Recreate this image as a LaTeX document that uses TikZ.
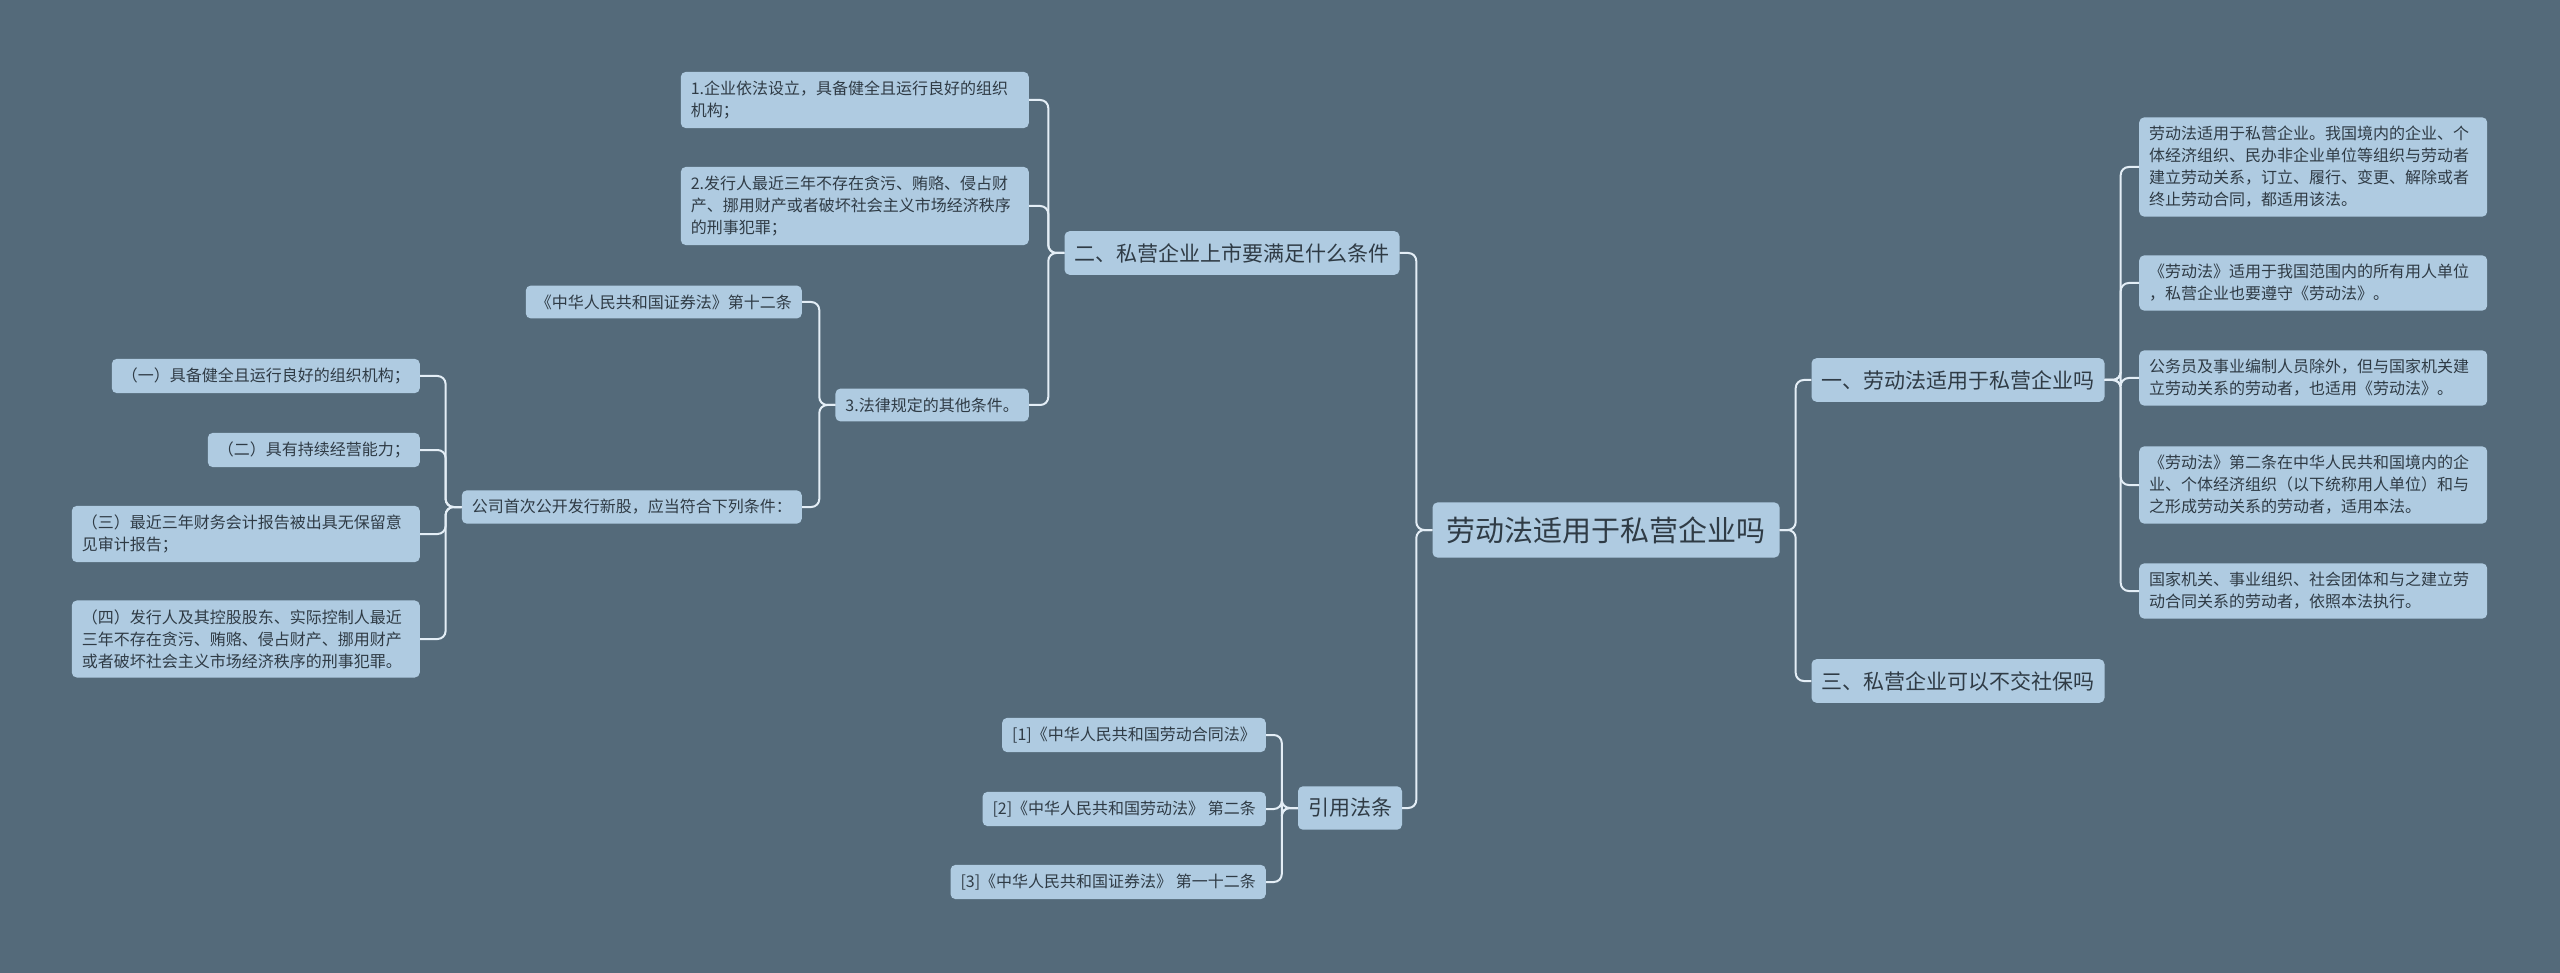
\documentclass[tikz,border=0pt]{standalone}
\usepackage{fontspec}
\setmainfont{Noto Sans CJK SC}
\usetikzlibrary{positioning}
\definecolor{bgc}{HTML}{546A7A}
\definecolor{boxc}{HTML}{AFCBE1}
\definecolor{txtc}{HTML}{2F3B45}
\definecolor{linec}{HTML}{E4EEF6}
\tikzset{
  box/.style={fill=boxc, text=txtc, rounded corners=5pt, inner xsep=10pt, inner ysep=9pt, align=left, font=\fontsize{16}{22}\selectfont},
  wide/.style={box, text width=328pt},
  mid/.style={box, font=\fontsize{21}{26}\selectfont, inner ysep=12pt},
  root/.style={box, font=\fontsize{29}{34}\selectfont, inner xsep=14pt, inner ysep=14pt},
  link/.style={draw=linec, line width=2pt, rounded corners=8pt},
}
\begin{document}
\begin{tikzpicture}[x=1pt, y=-1pt]
	\fill[bgc] (0,0) rectangle (2560,973);
	\useasboundingbox (0,0) rectangle (2560,973);

	\node [root] (main) at (1606,530) {劳动法适用于私营企业吗};

	\node [mid] (one) at (1958,380) {一、劳动法适用于私营企业吗};
	\node [mid] (three) at (1958,681) {三、私营企业可以不交社保吗};
	\node [mid] (two) at (1232,253) {二、私营企业上市要满足什么条件};
	\node [mid] (ref) at (1350,808) {引用法条};

	\node [wide, anchor=west] (a1) at (2139,167) {劳动法适用于私营企业。我国境内的企业、个\\体经济组织、民办非企业单位等组织与劳动者\\建立劳动关系，订立、履行、变更、解除或者\\终止劳动合同，都适用该法。};
	\node [wide, anchor=west] (a2) at (2139,283) {《劳动法》适用于我国范围内的所有用人单位\\，私营企业也要遵守《劳动法》。};
	\node [wide, anchor=west] (a3) at (2139,378) {公务员及事业编制人员除外，但与国家机关建\\立劳动关系的劳动者，也适用《劳动法》。};
	\node [wide, anchor=west] (a4) at (2139,485) {《劳动法》第二条在中华人民共和国境内的企\\业、个体经济组织（以下统称用人单位）和与\\之形成劳动关系的劳动者，适用本法。};
	\node [wide, anchor=west] (a5) at (2139,591) {国家机关、事业组织、社会团体和与之建立劳\\动合同关系的劳动者，依照本法执行。};

	\node [wide, anchor=east] (b1) at (1029,100) {1.企业依法设立，具备健全且运行良好的组织\\机构；};
	\node [wide, anchor=east] (b2) at (1029,206) {2.发行人最近三年不存在贪污、贿赂、侵占财\\产、挪用财产或者破坏社会主义市场经济秩序\\的刑事犯罪；};
	\node [box, anchor=east] (b3) at (1029,405) {3.法律规定的其他条件。};

	\node [box, anchor=east] (c1) at (802,302) {《中华人民共和国证券法》第十二条};
	\node [box, anchor=east] (c2) at (802,507) {公司首次公开发行新股，应当符合下列条件：};

	\node [box, anchor=east] (d1) at (420,376) {（一）具备健全且运行良好的组织机构；};
	\node [box, anchor=east] (d2) at (420,450) {（二）具有持续经营能力；};
	\node [wide, anchor=east] (d3) at (420,534) {（三）最近三年财务会计报告被出具无保留意\\见审计报告；};
	\node [wide, anchor=east] (d4) at (420,639) {（四）发行人及其控股股东、实际控制人最近\\三年不存在贪污、贿赂、侵占财产、挪用财产\\或者破坏社会主义市场经济秩序的刑事犯罪。};

	\node [box, anchor=east] (e1) at (1266,735) {[1]《中华人民共和国劳动合同法》};
	\node [box, anchor=east] (e2) at (1266,809) {[2]《中华人民共和国劳动法》 第二条};
	\node [box, anchor=east] (e3) at (1266,882) {[3]《中华人民共和国证券法》 第一十二条};

	\foreach \c in {one,three} \draw [link] (main.east) -- ++(16,0) |- (\c.west);
	\foreach \c in {two,ref} \draw [link] (main.west) -- ++(-16,0) |- (\c.east);
	\foreach \c in {a1,a2,a3,a4,a5} \draw [link] (one.east) -- ++(16,0) |- (\c.west);
	\foreach \c in {b1,b2,b3} \draw [link] (two.west) -- ++(-16,0) |- (\c.east);
	\foreach \c in {c1,c2} \draw [link] (b3.west) -- ++(-16,0) |- (\c.east);
	\foreach \c in {d1,d2,d3,d4} \draw [link] (c2.west) -- ++(-16,0) |- (\c.east);
	\foreach \c in {e1,e2,e3} \draw [link] (ref.west) -- ++(-16,0) |- (\c.east);
\end{tikzpicture}
\end{document}
